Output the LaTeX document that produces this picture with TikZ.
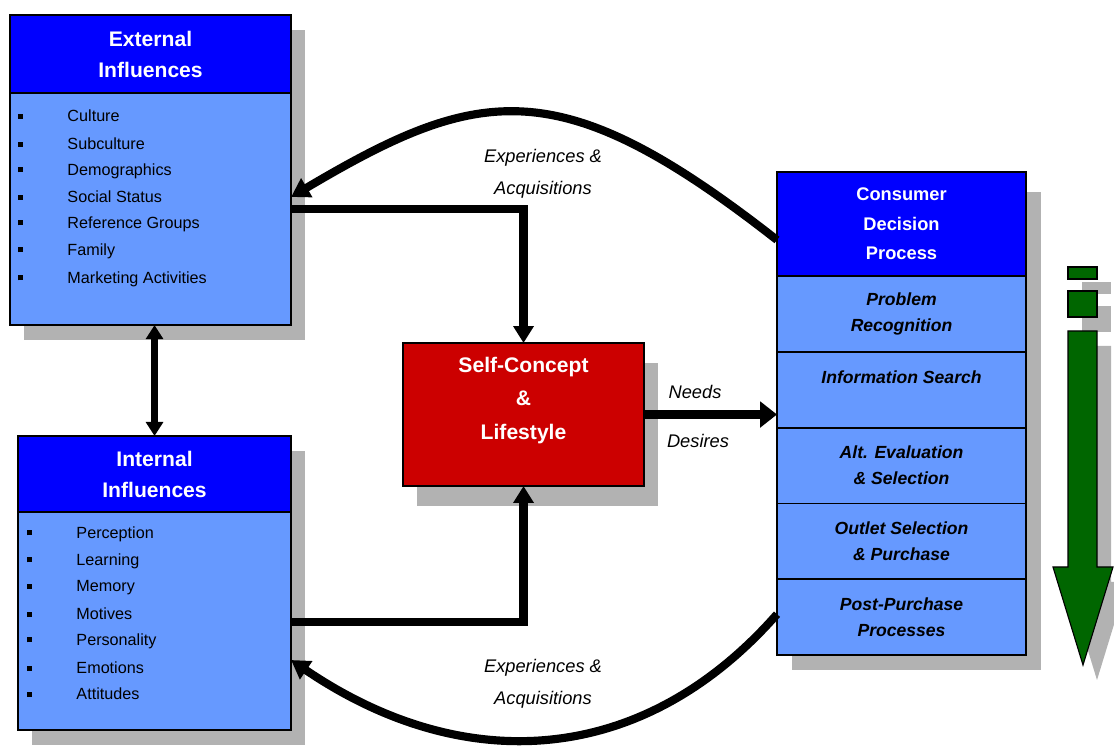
\documentclass[tikz,border=0pt]{standalone}
\usepackage{fontspec}
\setmainfont{Liberation Sans}
\usepackage{tikz}
\usetikzlibrary{arrows.meta, positioning, calc, backgrounds}

\definecolor{hdrblue}{RGB}{0,0,255}
\definecolor{bodyblue}{RGB}{102,153,255}
\definecolor{selfred}{RGB}{204,0,0}
\definecolor{flowgreen}{RGB}{0,102,0}

% bullet square followed by the item text
\newcommand{\bul}{\makebox[35pt][l]{\rule[2pt]{3.5pt}{3.5pt}}}

\tikzset{
  hdr/.style={draw=black, line width=1.2pt, fill=hdrblue, text=white, align=center,
    inner sep=0pt, outer sep=0pt, anchor=north west, font=\fontsize{15}{22}\selectfont\bfseries},
  bodybox/.style={draw=black, line width=1.2pt, fill=bodyblue, inner sep=0pt, outer sep=0pt},
  stagebox/.style={draw=black, line width=1.2pt, fill=bodyblue, inner sep=0pt, outer sep=0pt,
    align=center, minimum width=6.225cm, minimum height=1.895cm,
    font=\fontsize{12.5}{18.5}\selectfont\bfseries\itshape},
  item/.style={anchor=west, inner sep=0pt, font=\fontsize{11.5}{14}\selectfont},
  shade/.style={fill=black!30},
  conn/.style={line width=5.8pt},
  lbl/.style={align=center, font=\fontsize{13}{23}\selectfont\itshape}
}

\begin{document}
\begin{tikzpicture}[x=0.025cm, y=-0.025cm]
  \useasboundingbox (0,0) rectangle (1114,747);

  % External influences
  \node[hdr, minimum width=7.025cm, minimum height=1.95cm] (exthd) at (10,15) {External\\Influences};
  \node[bodybox, minimum width=7.025cm, minimum height=5.8cm, below=0pt of exthd] (extbd) {};
  \node[item] (ext1) at (18,116) {\bul Culture};
  \node[item] (ext2) at (18,144) {\bul Subculture};
  \node[item] (ext3) at (18,171) {\bul Demographics};
  \node[item] (ext4) at (18,197) {\bul Social Status};
  \node[item] (ext5) at (18,224) {\bul Reference Groups};
  \node[item] (ext6) at (18,251) {\bul Family};
  \node[item] (ext7) at (18,279) {\bul Marketing Activities};

  % Internal influences
  \node[hdr, minimum width=6.825cm, minimum height=1.9cm] (inthd) at (18,436) {Internal\\Influences};
  \node[bodybox, minimum width=6.825cm, minimum height=5.45cm, below=0pt of inthd] (intbd) {};
  \node[item] (int1) at (27,534) {\bul Perception};
  \node[item] (int2) at (27,561) {\bul Learning};
  \node[item] (int3) at (27,588) {\bul Memory};
  \node[item] (int4) at (27,614) {\bul Motives};
  \node[item] (int5) at (27,641) {\bul Personality};
  \node[item] (int6) at (27,668) {\bul Emotions};
  \node[item] (int7) at (27,694) {\bul Attitudes};

  % Self-concept
  \node[draw=black, line width=1.2pt, fill=selfred, anchor=north west, outer sep=0pt,
    minimum width=6.025cm, minimum height=3.575cm] (self) at (403,343) {};
  \node[align=center, text=white, font=\fontsize{15}{24}\selectfont\bfseries] (selftxt)
    at ($(self.center)+(0,-14)$) {Self-Concept\\\&\\Lifestyle};

  % Consumer decision process
  \node[hdr, minimum width=6.225cm, minimum height=2.6cm, font=\fontsize{13}{21}\selectfont\bfseries]
    (cdphd) at (777,172) {Consumer\\Decision\\Process};
  \node[stagebox, below=0pt of cdphd] (s1) {Problem\\Recognition};
  \node[stagebox, below=0pt of s1] (s2) {Information Search\\\mbox{}};
  \node[stagebox, below=0pt of s2] (s3) {Alt. Evaluation\\\& Selection};
  \node[stagebox, below=0pt of s3] (s4) {Outlet Selection\\\& Purchase};
  \node[stagebox, below=0pt of s4] (s5) {Post-Purchase\\Processes};

  % Green downward arrow
  \draw[fill=flowgreen, line width=0.8pt] (1068,267) rectangle (1097,279);
  \draw[fill=flowgreen, line width=0.8pt] (1068,291) rectangle (1097,317);
  \draw[fill=flowgreen, line width=0.8pt] (1068,331) -- (1097,331) -- (1097,567) -- (1113,567)
    -- (1083,665) -- (1053,567) -- (1068,567) -- cycle;

  % Connectors
  \draw[conn, -{Triangle[length=13pt, width=15pt]}] ($(cdphd.north west)+(0,68)$)
    .. controls (560,70) and (480,85) .. ($(exthd.north east)+(0,182)$);
  \draw[conn, -{Triangle[length=13pt, width=15pt]}] ($(s5.west)+(0,-3)$)
    .. controls (640,770) and (460,775) .. ($(intbd.north east)+(0,148)$);
  \draw[conn, -{Triangle[length=12pt, width=14pt]}] ($(extbd.north east)+(0,116)$) -| (self.north);
  \draw[conn, -{Triangle[length=12pt, width=14pt]}] ($(intbd.north east)+(0,110)$) -| (self.south);
  \draw[line width=7pt, -{Triangle[length=12pt, width=18pt]}] (self.east) -- (self.east -| cdphd.west);
  \draw[line width=4.5pt, {Triangle[length=10pt, width=12pt]}-{Triangle[length=10pt, width=12pt]}]
    (inthd.north |- extbd.south) -- (inthd.north);

  % Labels
  \node[lbl] (exptop) at (543,174) {Experiences \&\\Acquisitions};
  \node[lbl] (expbot) at (543,684) {Experiences \&\\Acquisitions};
  \node[lbl] (needs) at (695,392) {Needs};
  \node[lbl] (desires) at (698,441) {Desires};

  % Drop shadows
  \begin{scope}[on background layer]
    \fill[shade] ($(exthd.north west)+(14,15)$) rectangle ($(extbd.south east)+(14,15)$);
    \fill[shade] ($(inthd.north west)+(14,15)$) rectangle ($(intbd.south east)+(14,15)$);
    \fill[shade] ($(self.north west)+(14,20)$) rectangle ($(self.south east)+(14,20)$);
    \fill[shade] ($(cdphd.north west)+(15,20)$) rectangle ($(s5.south east)+(15,15)$);
    \fill[shade] (1082,282) rectangle (1111,294);
    \fill[shade] (1082,306) rectangle (1111,332);
    \fill[shade] (1082,346) -- (1111,346) -- (1111,582) -- (1127,582)
      -- (1097,680) -- (1067,582) -- (1082,582) -- cycle;
  \end{scope}
\end{tikzpicture}
\end{document}
